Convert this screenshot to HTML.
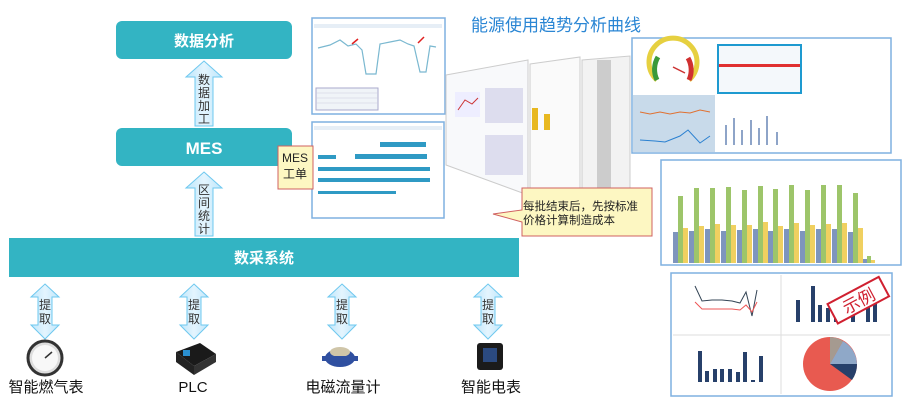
<!DOCTYPE html>
<html><head><meta charset="utf-8"><style>
body{margin:0;width:905px;height:405px;background:#fff;overflow:hidden;font-family:"Liberation Sans","Noto Sans CJK SC",sans-serif}
</style></head><body>
<svg width="905" height="405" viewBox="0 0 905 405" xmlns="http://www.w3.org/2000/svg" font-family="Liberation Sans, Noto Sans CJK SC, sans-serif">
<defs>
<linearGradient id="ar" x1="0" x2="1"><stop offset="0" stop-color="#bfe6fb"/><stop offset="0.5" stop-color="#e4f5fe"/><stop offset="1" stop-color="#bfe6fb"/></linearGradient>
</defs>
<rect x="116" y="21" width="176" height="38" rx="6" fill="#33b4c3"/>
<text x="204" y="46" font-size="15" font-weight="bold" fill="#fff" text-anchor="middle">数据分析</text>
<rect x="116" y="128" width="176" height="38" rx="6" fill="#33b4c3"/>
<text x="204" y="154" font-size="17" font-weight="bold" fill="#fff" text-anchor="middle">MES</text>
<rect x="9" y="238" width="510" height="39" fill="#33b4c3"/>
<text x="264" y="263" font-size="15" font-weight="bold" fill="#fff" text-anchor="middle">数采系统</text>
<path d="M204 61 L222 77 L213 77 L213 126 L195 126 L195 77 L186 77 Z" fill="url(#ar)" stroke="#6ec8ef" stroke-width="1"/>
<g font-size="12" fill="#333" text-anchor="middle"><text x="204" y="84">数</text><text x="204" y="97">据</text><text x="204" y="110">加</text><text x="204" y="123">工</text></g>
<path d="M204 172 L222 188 L213 188 L213 236 L195 236 L195 188 L186 188 Z" fill="url(#ar)" stroke="#6ec8ef" stroke-width="1"/>
<g font-size="12" fill="#333" text-anchor="middle"><text x="204" y="194">区</text><text x="204" y="207">间</text><text x="204" y="220">统</text><text x="204" y="233">计</text></g>
<g id="da">
<path d="M45 284 L59 297 L52 297 L52 325 L59 325 L45 339 L31 325 L38 325 L38 297 L31 297 Z" fill="url(#ar)" stroke="#6ec8ef" stroke-width="1"/>
<text x="45" y="309" font-size="12" fill="#333" text-anchor="middle">提</text><text x="45" y="323" font-size="12" fill="#333" text-anchor="middle">取</text>
</g>
<use href="#da" x="149"/><use href="#da" x="297"/><use href="#da" x="443"/>
<circle cx="45" cy="358" r="17" fill="#ddd" stroke="#333" stroke-width="3"/><circle cx="45" cy="358" r="13" fill="#f8f8f8"/><line x1="45" y1="358" x2="52" y2="352" stroke="#333" stroke-width="1.5"/>
<path d="M176 352 L200 343 L216 354 L194 366 Z" fill="#1a1a1a"/><path d="M176 352 L176 362 L194 375 L194 366 Z" fill="#222"/><path d="M194 366 L216 354 L216 362 L194 375Z" fill="#333"/><rect x="183" y="350" width="7" height="6" fill="#2a8fd0"/>
<ellipse cx="340" cy="358" rx="15" ry="9" fill="#2f4fa0"/><ellipse cx="340" cy="352" rx="10" ry="5" fill="#cfc5a8"/><rect x="322" y="356" width="36" height="5" fill="#3050a0"/>
<rect x="477" y="343" width="26" height="27" rx="3" fill="#1b1b1b"/><rect x="483" y="348" width="14" height="14" fill="#2b4a80"/>
<g font-size="15" fill="#111" text-anchor="middle"><text x="46" y="392">智能燃气表</text><text x="193" y="392">PLC</text><text x="343" y="392">电磁流量计</text><text x="491" y="392">智能电表</text></g>
<text x="471" y="31" font-size="17" fill="#2a86d4">能源使用趋势分析曲线</text>
<rect x="312" y="18" width="133" height="96" fill="#fff" stroke="#7fb0e0" stroke-width="1.5"/>
<rect x="314" y="24" width="128" height="4" fill="#e6eef6"/>
<polyline points="318,48 330,45 340,40 348,46 356,44 362,50 366,74 376,74 380,44 390,42 400,40 408,44 414,46 420,72 426,72 430,46 436,47" fill="none" stroke="#7ab8d0" stroke-width="1.2"/>
<line x1="352" y1="44" x2="358" y2="39" stroke="#e02020" stroke-width="1.5"/><line x1="418" y1="43" x2="424" y2="37" stroke="#e02020" stroke-width="1.5"/>
<rect x="316" y="88" width="62" height="22" fill="#f0f4f8" stroke="#aac"/>
<g stroke="#ccd" stroke-width="0.5"><line x1="316" y1="93" x2="378" y2="93"/><line x1="316" y1="98" x2="378" y2="98"/><line x1="316" y1="103" x2="378" y2="103"/></g>
<rect x="312" y="122" width="132" height="96" fill="#fff" stroke="#7fb0e0" stroke-width="1.5"/>
<rect x="314" y="126" width="128" height="4" fill="#e6eef6"/>
<g fill="#2f9ac4"><rect x="380" y="142" width="46" height="5"/><rect x="318" y="155" width="18" height="4"/><rect x="355" y="154" width="72" height="5"/><rect x="318" y="167" width="112" height="4"/><rect x="318" y="178" width="112" height="4"/><rect x="318" y="191" width="78" height="3"/></g>
<rect x="278" y="146" width="35" height="43" fill="#fdf7c2" stroke="#d06060" stroke-width="1"/>
<text x="295" y="162" font-size="12" fill="#222" text-anchor="middle">MES</text><text x="295" y="178" font-size="12" fill="#222" text-anchor="middle">工单</text>
<path d="M446 75 L528 60 L528 195 L446 165 Z" fill="#f8f9fb" stroke="#ccc"/>
<rect x="455" y="92" width="25" height="25" fill="#eef" /><rect x="485" y="88" width="38" height="35" fill="#dde" /><rect x="485" y="135" width="38" height="40" fill="#dde"/>
<polyline points="458,110 465,100 472,104 478,98" fill="none" stroke="#c33"/>
<path d="M530 64 L580 57 L580 188 L530 190 Z" fill="#fafafa" stroke="#ccc"/>
<rect x="532" y="108" width="6" height="22" fill="#e8b820"/><rect x="544" y="114" width="6" height="16" fill="#e8b820"/>
<path d="M582 60 L630 56 L630 188 L582 190 Z" fill="#f2f2f2" stroke="#ccc"/><rect x="597" y="60" width="14" height="128" fill="#ccc"/>
<path d="M522 188 L652 188 L652 236 L522 236 L522 222 L493 214 L522 210 Z" fill="#fdf7c2" stroke="#d06060"/>
<text x="523" y="210" font-size="11.5" fill="#222">每批结束后，先按标准</text><text x="523" y="224" font-size="11.5" fill="#222">价格计算制造成本</text>
<rect x="632" y="38" width="259" height="115" fill="#fff" stroke="#7fb0e0" stroke-width="1.5"/>
<rect x="633" y="95" width="82" height="57" fill="#c8daea"/>
<path d="M657 80 A24 24 0 1 1 689 80" fill="none" stroke="#e6d040" stroke-width="5"/>
<path d="M657 80 A24 24 0 0 1 658 57" fill="none" stroke="#3a9a3a" stroke-width="5"/><path d="M688 58 A24 24 0 0 1 689 80" fill="none" stroke="#d03030" stroke-width="5"/>
<line x1="673" y1="67" x2="685" y2="73" stroke="#c33" stroke-width="1.5"/>
<rect x="718" y="45" width="83" height="48" fill="#f4f8fb" stroke="#1e9ad0" stroke-width="2"/><rect x="719" y="64" width="81" height="3" fill="#e03030"/>
<polyline points="640,112 650,114 660,112 670,114 680,112 690,113 700,110 710,112" fill="none" stroke="#e07030"/>
<polyline points="640,140 655,141 665,142 680,136 688,130 700,143 710,136" fill="none" stroke="#2a80d0"/>
<g fill="#8ea4c8"><rect x="725" y="125" width="2" height="20"/><rect x="733" y="118" width="2" height="27"/><rect x="741" y="130" width="2" height="15"/><rect x="750" y="120" width="2" height="25"/><rect x="758" y="128" width="2" height="17"/><rect x="766" y="116" width="2" height="29"/><rect x="776" y="132" width="2" height="13"/></g>
<rect x="661" y="160" width="240" height="105" fill="#fff" stroke="#7fb0e0" stroke-width="1.5"/>
<g id="grp"><rect x="673" y="232" width="5" height="31" fill="#7e95bd"/><rect x="678" y="196" width="5" height="67" fill="#9dc56a"/><rect x="683" y="228" width="5" height="35" fill="#f0d060"/></g>
<g>
<rect x="689" y="231" width="5" height="32" fill="#7e95bd"/><rect x="694" y="188" width="5" height="75" fill="#9dc56a"/><rect x="699" y="226" width="5" height="37" fill="#f0d060"/>
<rect x="705" y="229" width="5" height="34" fill="#7e95bd"/><rect x="710" y="188" width="5" height="75" fill="#9dc56a"/><rect x="715" y="224" width="5" height="39" fill="#f0d060"/>
<rect x="721" y="231" width="5" height="32" fill="#7e95bd"/><rect x="726" y="187" width="5" height="76" fill="#9dc56a"/><rect x="731" y="225" width="5" height="38" fill="#f0d060"/>
<rect x="737" y="230" width="5" height="33" fill="#7e95bd"/><rect x="742" y="190" width="5" height="73" fill="#9dc56a"/><rect x="747" y="225" width="5" height="38" fill="#f0d060"/>
<rect x="753" y="229" width="5" height="34" fill="#7e95bd"/><rect x="758" y="186" width="5" height="77" fill="#9dc56a"/><rect x="763" y="222" width="5" height="41" fill="#f0d060"/>
<rect x="768" y="231" width="5" height="32" fill="#7e95bd"/><rect x="773" y="189" width="5" height="74" fill="#9dc56a"/><rect x="778" y="226" width="5" height="37" fill="#f0d060"/>
<rect x="784" y="229" width="5" height="34" fill="#7e95bd"/><rect x="789" y="185" width="5" height="78" fill="#9dc56a"/><rect x="794" y="223" width="5" height="40" fill="#f0d060"/>
<rect x="800" y="231" width="5" height="32" fill="#7e95bd"/><rect x="805" y="190" width="5" height="73" fill="#9dc56a"/><rect x="810" y="225" width="5" height="38" fill="#f0d060"/>
<rect x="816" y="229" width="5" height="34" fill="#7e95bd"/><rect x="821" y="185" width="5" height="78" fill="#9dc56a"/><rect x="826" y="224" width="5" height="39" fill="#f0d060"/>
<rect x="832" y="229" width="5" height="34" fill="#7e95bd"/><rect x="837" y="185" width="5" height="78" fill="#9dc56a"/><rect x="842" y="223" width="5" height="40" fill="#f0d060"/>
<rect x="848" y="232" width="5" height="31" fill="#7e95bd"/><rect x="853" y="193" width="5" height="70" fill="#9dc56a"/><rect x="858" y="228" width="5" height="35" fill="#f0d060"/>
<rect x="863" y="259" width="4" height="4" fill="#7e95bd"/><rect x="867" y="256" width="4" height="7" fill="#9dc56a"/><rect x="871" y="260" width="4" height="3" fill="#f0d060"/>
</g>
<rect x="671" y="273" width="221" height="123" fill="#fff" stroke="#7fb0e0" stroke-width="1.5"/>
<line x1="781" y1="275" x2="781" y2="394" stroke="#ddd"/><line x1="673" y1="335" x2="890" y2="335" stroke="#ddd"/>
<polyline points="695,286 702,301 712,300 722,300 732,301 740,303 746,292 752,316 757,290" fill="none" stroke="#345" stroke-width="1"/>
<polyline points="695,302 702,309 712,309 722,309 732,309 740,310 746,305 752,312 757,302" fill="none" stroke="#e55" stroke-width="1"/>
<g fill="#27406a"><rect x="796" y="300" width="4" height="22"/><rect x="811" y="286" width="4" height="36"/><rect x="818" y="305" width="4" height="17"/><rect x="826" y="308" width="4" height="14"/><rect x="834" y="304" width="4" height="18"/><rect x="851" y="300" width="4" height="22"/><rect x="866" y="300" width="4" height="22"/><rect x="873" y="295" width="4" height="27"/>
<rect x="698" y="351" width="4" height="31"/><rect x="705" y="371" width="4" height="11"/><rect x="713" y="369" width="4" height="13"/><rect x="720" y="369" width="4" height="13"/><rect x="728" y="369" width="4" height="13"/><rect x="736" y="372" width="4" height="10"/><rect x="743" y="352" width="4" height="30"/><rect x="751" y="380" width="4" height="2"/><rect x="759" y="356" width="4" height="26"/></g>
<circle cx="830" cy="364" r="27" fill="#e85a50"/>
<path d="M830 364 L843 341 A27 27 0 0 1 857 364 Z" fill="#8fa8c8"/><path d="M830 364 L857 364 A27 27 0 0 1 852 380 Z" fill="#27406a"/><path d="M830 364 L830 337 A27 27 0 0 1 843 341 Z" fill="#a59a90"/>
<g transform="rotate(-28 857 302)"><rect x="830" y="290" width="58" height="22" fill="#fff" stroke="#d02030" stroke-width="2"/><text x="859" y="308" font-size="17" fill="#d02030" text-anchor="middle">示例</text></g>
</svg>
</body></html>
